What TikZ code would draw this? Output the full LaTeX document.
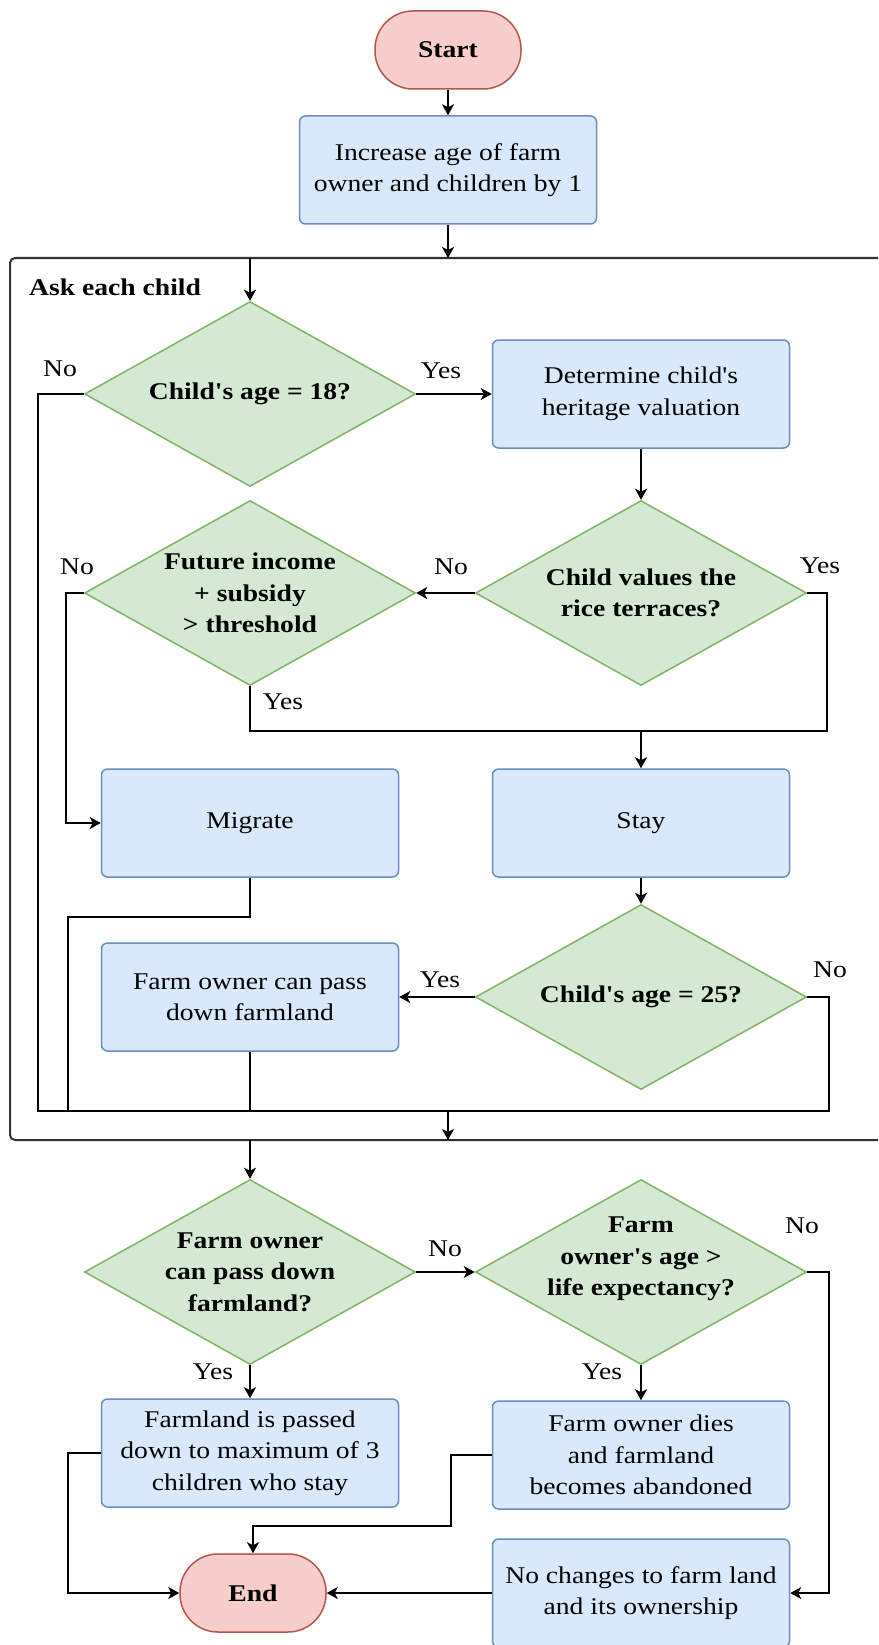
\documentclass[tikz,border=0pt]{standalone}
\usepackage{fontspec}
\setmainfont{Liberation Serif}[FakeStretch=1.15, Ligatures=TeXOff]
\usetikzlibrary{shapes.geometric,arrows.meta}
\definecolor{bluefill}{HTML}{DAE8FC}
\definecolor{bluestroke}{HTML}{6C8EBF}
\definecolor{greenfill}{HTML}{D5E8D4}
\definecolor{greenstroke}{HTML}{82B366}
\definecolor{redfill}{HTML}{F8CECC}
\definecolor{redstroke}{HTML}{B85450}
\definecolor{frame}{HTML}{333333}
\newcommand{\txt}{\fontsize{24}{31.5}\selectfont}
\begin{document}
\begin{tikzpicture}[x=1pt,y=-1pt,
  every node/.style={font=\txt},
  process/.style={rectangle, rounded corners=6pt, draw=bluestroke, fill=bluefill,
    line width=1.5pt, minimum width=297pt, minimum height=108pt, align=center, inner sep=2pt},
  decision/.style={diamond, draw=greenstroke, fill=greenfill, line width=1.5pt,
    minimum width=331pt, minimum height=185pt, inner sep=0pt},
  dtext/.style={align=center, font=\txt\bfseries},
  terminal/.style={rectangle, rounded corners=38pt, draw=redstroke, fill=redfill,
    line width=1.5pt, minimum width=146pt, minimum height=78pt, font=\txt\bfseries},
  flow/.style={line width=2.8pt, draw=black},
  arr/.style={flow, -{Stealth[length=11pt,width=12pt,inset=3pt]}},
  lbl/.style={inner sep=0pt}]
\clip (0,0) rectangle (878,1645);
\useasboundingbox (0,0) rectangle (878,1645);
\fill[white] (0,0) rectangle (878,1645);

% outer loop body
\node[terminal] (start) at (448,50) {Start};
\node[process] (inc) at (448,170) {Increase age of farm\\owner and children by 1};

% container for the per-child steps
\draw[draw=frame, line width=2pt, rounded corners=5pt, fill=white] (10,258) rectangle (900,1140);
\coordinate (boxtopin) at (448,258);
\coordinate (boxtopout) at (250,258);
\coordinate (boxbotin) at (448,1140);
\coordinate (boxbotout) at (250,1140);
\node[anchor=west, font=\txt\bfseries, inner sep=0pt] (ask) at (29,287) {Ask each child};

\node[decision] (d18) at (250,394) {};
\node[dtext] (d18t) at (d18) {Child's age = 18?};
\node[process] (det) at (641,394) {Determine child's\\heritage valuation};
\node[decision] (dval) at (641,593) {};
\node[dtext] (dvalt) at (dval) {Child values the\\rice terraces?};
\node[decision] (dinc) at (250,593) {};
\node[dtext] (dinct) at (dinc) {Future income\\+ subsidy\\> threshold};
\node[process] (mig) at (250,823) {Migrate};
\node[process] (stay) at (641,823) {Stay};
\node[decision] (d25) at (641,997) {};
\node[dtext] (d25t) at (d25) {Child's age = 25?};
\node[process] (pass) at (250,997) {Farm owner can pass\\down farmland};

% after the loop
\node[decision] (dpass) at (250,1272) {};
\node[dtext] (dpasst) at (dpass) {Farm owner\\can pass down\\farmland?};
\node[decision] (dlife) at (641,1272) {};
\node[dtext] (dlifet) at (641,1259) {Farm\\owner's age >\\life expectancy?};
\node[process] (passed) at (250,1453) {Farmland is passed\\down to maximum of 3\\children who stay};
\node[process] (dies) at (641,1455) {Farm owner dies\\and farmland\\becomes abandoned};
\node[process] (nochg) at (641,1593) {No changes to farm land\\and its ownership};
\node[terminal] (end) at (253,1593) {End};

% connectors
\draw[arr] (start) -- (inc);
\draw[arr] (inc) -- (boxtopin);
\draw[arr] (boxtopout) -- (d18.north);
\draw[arr] (d18.east) -- (det.west);
\draw[arr] (det.south) -- (dval.north);
\draw[arr] (dval.west) -- (dinc.east);
\coordinate (yesbus) at (641,731);
\draw[flow] (dval.east) -| (827,731) -- (250,731) -- (dinc.south);
\draw[arr] (yesbus) -- (stay.north);
\draw[arr] (dinc.west) -- (66,593) -- (66,823) -- (mig.west);
\draw[arr] (stay.south) -- (d25.north);
\draw[arr] (d25.west) -- (pass.east);

\coordinate (busmid) at (448,1111);
\draw[flow] (d18.west) -- (38,394) -- (38,1111) -- (829,1111) -- (829,997) -- (d25.east);
\draw[flow] (mig.south) -- (250,917) -- (68,917) -- (68,1111);
\draw[flow] (pass.south) -- (250,1111);
\draw[arr] (busmid) -- (boxbotin);

\draw[arr] (boxbotout) -- (dpass.north);
\draw[arr] (dpass.east) -- (dlife.west);
\draw[arr] (dpass.south) -- (passed.north);
\draw[arr] (dlife.south) -- (dies.north);
\draw[arr] (dlife.east) -- (829,1272) -- (829,1593) -- (nochg.east);
\draw[arr] (passed.west) -- (68,1453) -- (68,1593) -- (end.west);
\draw[arr] (dies.west) -- (451,1455) -- (451,1526) -- (253,1526) -- (end.north);
\draw[arr] (nochg.west) -- (end.east);

% branch labels
\node[lbl] (l1) at (60,369) {No};
\node[lbl] (l2) at (441,371) {Yes};
\node[lbl] (l3) at (77,567) {No};
\node[lbl] (l4) at (451,567) {No};
\node[lbl] (l5) at (820,566) {Yes};
\node[lbl] (l6) at (283,702) {Yes};
\node[lbl] (l7) at (440,980) {Yes};
\node[lbl] (l8) at (830,970) {No};
\node[lbl] (l9) at (445,1249) {No};
\node[lbl] (l10) at (802,1226) {No};
\node[lbl] (l11) at (213,1372) {Yes};
\node[lbl] (l12) at (602,1372) {Yes};
\end{tikzpicture}
\end{document}
